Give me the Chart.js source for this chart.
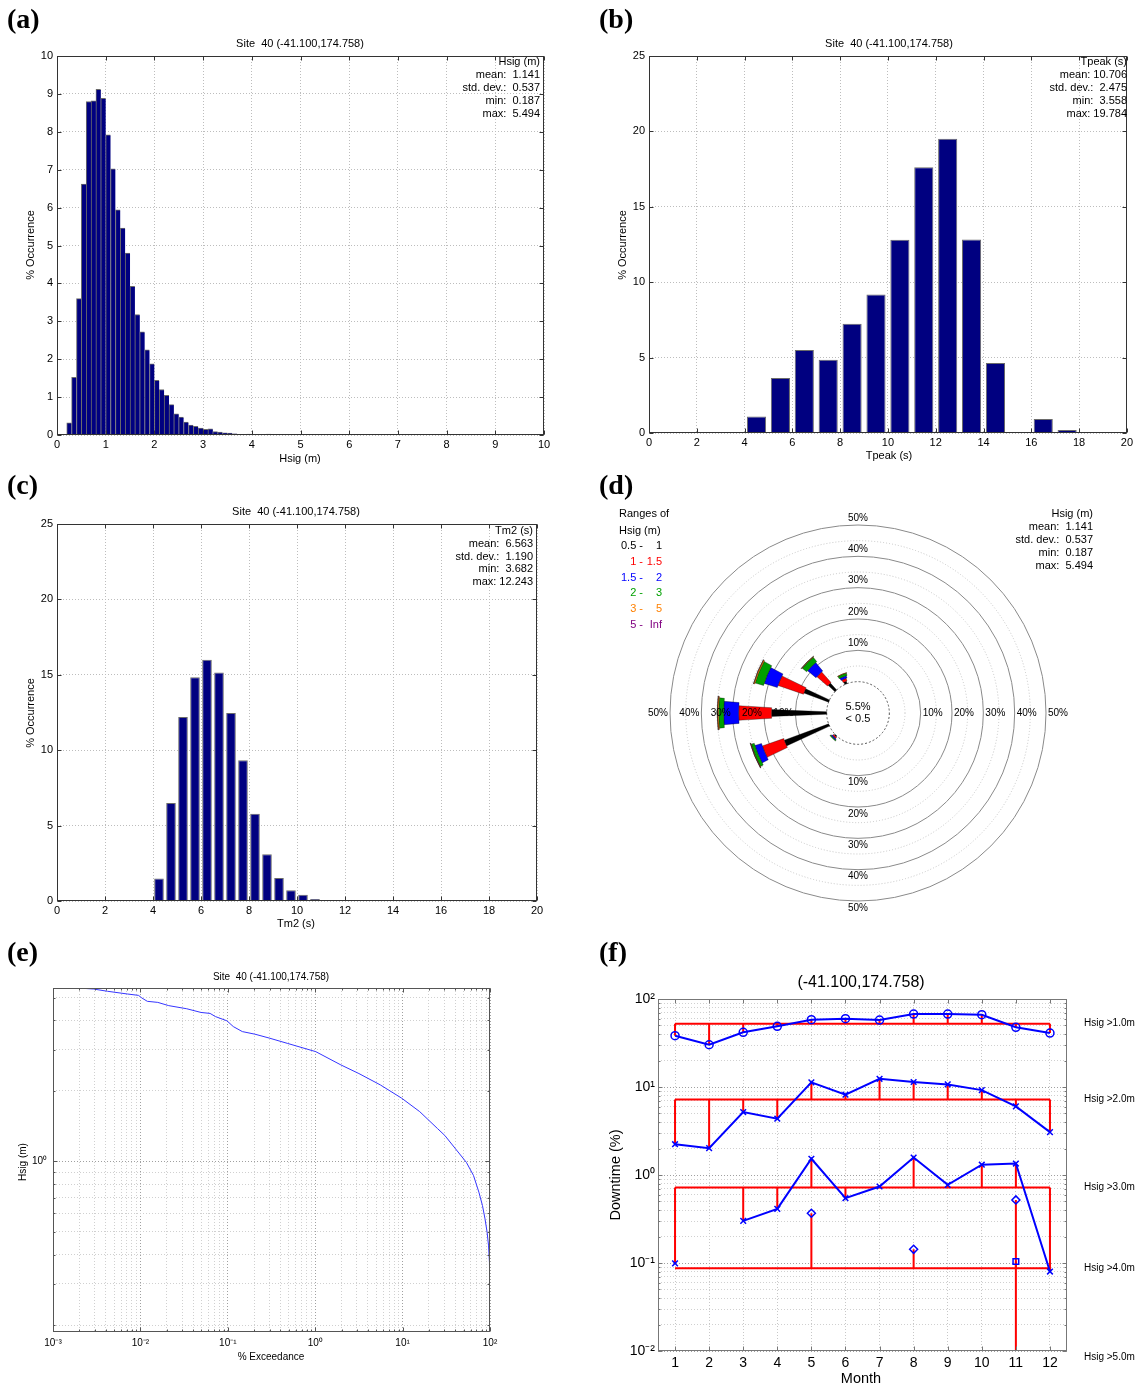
<!DOCTYPE html>
<html>
<head>
<meta charset="utf-8">
<title>Site 40 wave climate</title>
<script src="https://cdn.jsdelivr.net/npm/chart.js@4.4.1/dist/chart.umd.min.js"></script>
<style>
body { margin: 0; background: #fff; }
#page { position: relative; width: 1136px; height: 1387px; background: #fff; overflow: hidden; }
canvas { position: absolute; }
</style>
</head>
<body>
<div id="page">
  <canvas id="histHs" width="568" height="470" style="left:0;top:0"></canvas>
  <canvas id="histTp" width="568" height="470" style="left:568px;top:0"></canvas>
  <canvas id="histTm" width="568" height="460" style="left:0;top:470px"></canvas>
  <canvas id="rose" width="568" height="460" style="left:568px;top:470px"></canvas>
  <canvas id="exceed" width="568" height="457" style="left:0;top:930px"></canvas>
  <canvas id="downtime" width="568" height="457" style="left:568px;top:930px"></canvas>
</div>
<script>
//Site label used on every panel
var siteTitle = "Site  40 (-41.100,174.758)";
var siteCoords = "(-41.100,174.758)";

//(a) Hsig histogram, 0.1 m bins (lower edge of bin)
var hsBinEdges = [0.1, 0.2, 0.3, 0.4, 0.5, 0.6, 0.7, 0.8, 0.9, 1.0, 1.1, 1.2, 1.3, 1.4, 1.5, 1.6, 1.7, 1.8,
    1.9, 2.0, 2.1, 2.2, 2.3, 2.4, 2.5, 2.6, 2.7, 2.8, 2.9, 3.0, 3.1, 3.2, 3.3, 3.4, 3.5, 3.6, 3.7, 3.8,
    3.9, 4.0, 4.1, 4.2, 4.3, 4.4, 4.5, 4.6, 4.7, 4.8, 4.9, 5.0, 5.1, 5.2, 5.3, 5.4];
var hsOccurrence = [0.02, 0.32, 1.52, 3.6, 6.62, 8.8, 8.82, 9.12, 8.88, 7.92, 7.02, 5.94, 5.46, 4.8, 3.92, 3.18, 2.72, 2.25,
    1.88, 1.44, 1.2, 1.05, 0.8, 0.56, 0.47, 0.34, 0.26, 0.23, 0.18, 0.15, 0.16, 0.09, 0.08, 0.06, 0.05, 0.03, 0.015, 0.012,
    0.025, 0.01, 0.008, 0.01, 0.025, 0.01, 0.008, 0.01, 0.008, 0.004, 0.008, 0.008, 0.006, 0.008, 0.006, 0.004];
var hsStats = [1.141, 0.537, 0.187, 5.494];

//(b) Tpeak histogram, 1 s bins
var tpBinEdges = [3, 4, 5, 6, 7, 8, 9, 10, 11, 12, 13, 14, 15, 16, 17, 18, 19];
var tpOccurrence = [0.07, 1.1, 3.64, 5.5, 4.86, 7.24, 9.19, 12.81, 17.62, 19.52, 12.83, 4.64, 0, 0.93, 0.2, 0, 0.04];
var tpStats = [10.706, 2.475, 3.558, 19.784];

//(c) Tm2 histogram, 0.5 s bins
var tmBinEdges = [3.5, 4, 4.5, 5, 5.5, 6, 6.5, 7, 7.5, 8, 8.5, 9, 9.5, 10, 10.5, 11, 11.5, 12];
var tmOccurrence = [0.07, 1.5, 6.5, 12.2, 14.84, 16.0, 15.16, 12.46, 9.33, 5.79, 3.1, 1.53, 0.71, 0.42, 0.13, 0.07, 0.03, 0.02];
var tmStats = [6.563, 1.190, 3.682, 12.243];

//(d) wave rose, % occurrence per direction for each Hsig range
var roseDirs = ["N", "NNE", "NE", "ENE", "E", "ESE", "SE", "SSE", "S", "SSW", "SW", "WSW", "W", "WNW", "NW", "NNW"];
var rangeLow = ["0.5", "1", "1.5", "2", "3", "5"];
var rangeHigh = ["1", "1.5", "2", "3", "5", "Inf"];
var rose05to1  = [0, 0, 0, 0, 0, 0, 0, 0, 0, 0, 0.3, 15.1, 17.6, 8.4, 3.0, 0.8];
var rose1to15  = [0, 0, 0, 0, 0, 0, 0, 0, 0, 0, 0.5, 7.2, 10.5, 8.6, 4.5, 0.9];
var rose15to2  = [0, 0, 0, 0, 0, 0, 0, 0, 0, 0, 0.4, 2.2, 4.8, 4.4, 3.5, 0.8];
var rose2to3   = [0, 0, 0, 0, 0, 0, 0, 0, 0, 0, 0.3, 1.0, 1.6, 2.8, 1.8, 0.8];
var rose3to5   = [0, 0, 0, 0, 0, 0, 0, 0, 0, 0, 0, 0.2, 0.4, 0.4, 0.2, 0.1];
var rose5toInf = [0, 0, 0, 0, 0, 0, 0, 0, 0, 0, 0, 0.03, 0.05, 0.05, 0.02, 0];
var calmPct = 5.5;
var calmBelow = "0.5";
var ringValues = [10, 20, 30, 40, 50];

//(e) Hsig exceedance curve
var exceedPct = [0.002, 0.0029, 0.0042, 0.0071, 0.0095, 0.0104, 0.012, 0.0158, 0.0211, 0.0339, 0.0494, 0.0627,
    0.0721, 0.0977, 0.1156, 0.1466, 0.2042, 0.2972, 0.4786, 1.014, 1.968, 3.162, 5.559, 9.772, 15.7, 25.12,
    30.4, 40.4, 53.7, 64.7, 74.6, 82.0, 87.7, 92.7, 96.3, 98.6, 99.5, 99.85, 99.97, 100];
var exceedHs = [5.49, 5.44, 5.32, 5.18, 5.11, 4.98, 4.82, 4.77, 4.62, 4.48, 4.32, 4.28,
    4.15, 3.98, 3.76, 3.58, 3.49, 3.36, 3.19, 2.94, 2.58, 2.37, 2.12, 1.86, 1.63, 1.38,
    1.29, 1.13, 0.99, 0.871, 0.739, 0.648, 0.568, 0.498, 0.436, 0.371, 0.31, 0.25, 0.21, 0.187];

//(f) monthly downtime (%) for each Hsig threshold, 0 = none
var months = [1, 2, 3, 4, 5, 6, 7, 8, 9, 10, 11, 12];
var down10 = [38.3, 30.2, 41.8, 48.9, 58.2, 59.7, 57.7, 67.5, 67.5, 66.3, 47.7, 41.0];
var down20 = [2.24, 2.02, 5.19, 4.36, 11.3, 8.17, 12.4, 11.4, 10.7, 9.22, 6.02, 3.07];
var down30 = [0.099, 0, 0.301, 0.412, 1.53, 0.545, 0.74, 1.58, 0.773, 1.31, 1.35, 0.080];
var down40 = [0, 0, 0, 0, 0.368, 0, 0, 0.143, 0, 0, 0.521, 0];
var down50 = [0, 0, 0, 0, 0, 0, 0, 0, 0, 0, 0.104, 0];
var downAnnual = [52.4, 7.23, 0.721, 0.087, 0.0086];
var downNames = ["Hsig >1.0m", "Hsig >2.0m", "Hsig >3.0m", "Hsig >4.0m", "Hsig >5.0m"];


var FONT = '"Liberation Sans", Arial, Helvetica, sans-serif';
var SERIF = '"Liberation Serif", "Times New Roman", serif';
Chart.defaults.font.family = FONT;
Chart.defaults.color = "#000";
Chart.defaults.animation = false;
Chart.defaults.events = [];
Chart.defaults.plugins.legend.display = false;
Chart.defaults.plugins.tooltip.enabled = false;

var SUP = {"-": "\u207b", "0": "\u2070", "1": "\u00b9", "2": "\u00b2", "3": "\u00b3", "4": "\u2074",
    "5": "\u2075", "6": "\u2076", "7": "\u2077", "8": "\u2078", "9": "\u2079"};

function isDecade(v) {
    var e = Math.log10(v);
    return Math.abs(e - Math.round(e)) < 1e-6;
}

//tick label like 10^-2 with real superscript characters
function powLabel(v) {
    if (!isDecade(v)) return "";
    var e = String(Math.round(Math.log10(v)));
    var s = "";
    for (var i = 0; i < e.length; i++) s += SUP[e[i]];
    return "10" + s;
}

//MATLAB style log ticks: 1..9 in every decade
function logTicks(scale) {
    var t = [];
    var lo = Math.floor(Math.log10(scale.min));
    var hi = Math.ceil(Math.log10(scale.max));
    for (var e = lo; e <= hi; e++) {
        for (var m = 1; m < 10; m++) {
            var v = parseFloat((m * Math.pow(10, e)).toPrecision(6));
            if (v >= scale.min * 0.9999 && v <= scale.max * 1.0001) t.push({value: v});
        }
    }
    scale.ticks = t;
}

function logGridColor(c) {
    if (!c.tick) return "#d0d0d0";
    return isDecade(c.tick.value) ? "#a0a0a0" : "#d0d0d0";
}

function statLines(name, vals) {
    var f = function(v) { return (v < 10 ? " " : "") + v.toFixed(3); };
    return [name, "mean: " + f(vals[0]), "std. dev.: " + f(vals[1]), "min: " + f(vals[2]), "max: " + f(vals[3])];
}

//frame round the plot area with small inward ticks
function boxPlugin(color) {
    return {
        id: "box",
        afterDraw: function(chart) {
            var ctx = chart.ctx, a = chart.chartArea;
            var L = Math.round(a.left) + 0.5, R = Math.round(a.right) - 0.5;
            var T = Math.round(a.top) + 0.5, B = Math.round(a.bottom) - 0.5;
            ctx.save();
            ctx.strokeStyle = color;
            ctx.lineWidth = 1;
            ctx.strokeRect(L, T, R - L, B - T);
            ctx.beginPath();
            chart.scales.x.ticks.forEach(function(t) {
                var px = Math.round(chart.scales.x.getPixelForValue(t.value)) + 0.5;
                var len = t.label ? 4 : 2;
                ctx.moveTo(px, B); ctx.lineTo(px, B - len);
                ctx.moveTo(px, T); ctx.lineTo(px, T + len);
            });
            chart.scales.y.ticks.forEach(function(t) {
                var py = Math.round(chart.scales.y.getPixelForValue(t.value)) + 0.5;
                var len = t.label ? 4 : 2;
                ctx.moveTo(L, py); ctx.lineTo(L + len, py);
                ctx.moveTo(R, py); ctx.lineTo(R - len, py);
            });
            ctx.stroke();
            ctx.restore();
        }
    };
}

//free text (titles, axis names, stats, panel letters)
function textPlugin(items) {
    return {
        id: "texts",
        afterDraw: function(chart) {
            var ctx = chart.ctx;
            items.forEach(function(it) {
                ctx.save();
                ctx.font = (it.bold ? "bold " : "") + (it.size || 11) + "px " + (it.family || FONT);
                ctx.fillStyle = it.color || "#000";
                ctx.textAlign = it.align || "center";
                ctx.textBaseline = "middle";
                ctx.translate(it.x, it.y);
                if (it.rot) ctx.rotate(it.rot);
                ctx.fillText(it.text, 0, 0);
                ctx.restore();
            });
        }
    };
}

function statTexts(lines, right, top, step) {
    return lines.map(function(s, i) {
        return {text: s, x: right, y: top + i * step, align: "right", size: 11};
    });
}

function histChart(id, edges, values, binW, barPct, xMax, xStep, yMax, yStep, box, texts) {
    var el = document.getElementById(id);
    var W = el.width, H = el.height;
    var pts = edges.map(function(e, i) { return {x: e + binW / 2, y: values[i]}; });
    return new Chart(el, {
        type: "bar",
        data: {
            datasets: [{
                data: pts,
                backgroundColor: "#000080",
                borderColor: "#6a6a6a",
                borderWidth: binW < 0.2 ? {top: 1, left: 1, right: 0, bottom: 0} : 1,
                borderSkipped: "bottom",
                barPercentage: barPct,
                categoryPercentage: 1
            }]
        },
        options: {
            responsive: false,
            layout: {padding: {left: 0, top: box.t, right: W - box.r, bottom: 0}},
            scales: {
                x: {
                    type: "linear", min: 0, max: xMax, offset: false,
                    ticks: {stepSize: xStep, padding: 3, font: {size: 11}, maxRotation: 0, autoSkip: false},
                    grid: {color: "#bdbdbd", drawTicks: false, offset: false},
                    border: {display: false, dash: [1, 2]},
                    afterFit: function(s) { s.height = H - box.b; }
                },
                y: {
                    type: "linear", min: 0, max: yMax,
                    ticks: {stepSize: yStep, padding: 4, font: {size: 11}, autoSkip: false},
                    grid: {color: "#bdbdbd", drawTicks: false},
                    border: {display: false, dash: [1, 2]},
                    afterFit: function(s) { s.width = box.l; }
                }
            }
        },
        plugins: [boxPlugin("#333"), textPlugin(texts)]
    });
}

//(a)
histChart("histHs", hsBinEdges, hsOccurrence, 0.1, 1, 10, 1, 10, 1,
    {l: 57, t: 56, r: 544, b: 435},
    [{text: "(a)", x: 7, y: 21, align: "left", size: 28, bold: true, family: SERIF},
     {text: siteTitle, x: 300, y: 44},
     {text: "Hsig (m)", x: 300, y: 459},
     {text: "% Occurrence", x: 31, y: 245, rot: -Math.PI / 2}]
    .concat(statTexts(statLines("Hsig (m)", hsStats), 540, 62, 13)));

//(b)
histChart("histTp", tpBinEdges, tpOccurrence, 1, 0.8, 20, 2, 25, 5,
    {l: 81, t: 56, r: 562, b: 433},
    [{text: "(b)", x: 31, y: 21, align: "left", size: 28, bold: true, family: SERIF},
     {text: siteTitle, x: 321, y: 44},
     {text: "Tpeak (s)", x: 321, y: 456},
     {text: "% Occurrence", x: 55, y: 245, rot: -Math.PI / 2}]
    .concat(statTexts(statLines("Tpeak (s)", tpStats), 559, 62, 13)));

//(c)
histChart("histTm", tmBinEdges, tmOccurrence, 0.5, 0.8, 20, 2, 25, 5,
    {l: 57, t: 54, r: 537, b: 431},
    [{text: "(c)", x: 7, y: 17, align: "left", size: 28, bold: true, family: SERIF},
     {text: siteTitle, x: 296, y: 42},
     {text: "Tm2 (s)", x: 296, y: 454},
     {text: "% Occurrence", x: 31, y: 243, rot: -Math.PI / 2}]
    .concat(statTexts(statLines("Tm2 (s)", tmStats), 533, 61, 12.8)));

//(d) wave rose on a radial scale running from -10 so that 0 % sits on the calm circle
var roseBands = [rose05to1, rose1to15, rose15to2, rose2to3, rose3to5, rose5toInf];
var bandColors = ["#000000", "#ff0000", "#0000ff", "#00a000", "#ff8000", "#800080"];
var bandText = ["#000000", "#ff0000", "#0000ff", "#00a000", "#ff8000", "#800080"];
var bandSpread = [4.5, 7, 10, 12.5, 13.5, 14];

var rosePlugin = {
    id: "rose",
    afterDatasetsDraw: function(chart) {
        var s = chart.scales.r, ctx = chart.ctx;
        var cum = roseDirs.map(function() { return 0; });
        ctx.save();
        chart.data.datasets.forEach(function(ds, b) {
            ds.data.forEach(function(v, i) {
                if (!v) return;
                var r0 = s.getDistanceFromCenterForValue(cum[i]);
                cum[i] += v;
                var r1 = s.getDistanceFromCenterForValue(cum[i]);
                var ang = s.getIndexAngle(i) - Math.PI / 2;
                var h = bandSpread[b] * Math.PI / 360;
                ctx.beginPath();
                ctx.arc(s.xCenter, s.yCenter, r1, ang - h, ang + h);
                ctx.arc(s.xCenter, s.yCenter, r0, ang + h, ang - h, true);
                ctx.closePath();
                ctx.fillStyle = bandColors[b];
                ctx.fill();
                ctx.lineWidth = 0.6;
                ctx.strokeStyle = "rgba(0,0,0,0.55)";
                ctx.stroke();
            });
        });
        ctx.restore();
    },
    afterDraw: function(chart) {
        var s = chart.scales.r, ctx = chart.ctx;
        var xc = s.xCenter, yc = s.yCenter;
        ctx.save();
        ctx.fillStyle = "#000";
        ctx.font = "10px " + FONT;
        ringValues.forEach(function(v) {
            var rr = s.getDistanceFromCenterForValue(v);
            var lab = v + "%";
            ctx.textAlign = "center";
            ctx.textBaseline = "bottom";
            ctx.fillText(lab, xc, yc - rr - 2);
            ctx.textBaseline = "top";
            ctx.fillText(lab, xc, yc + rr + 2);
            ctx.textBaseline = "middle";
            ctx.textAlign = "left";
            ctx.fillText(lab, xc + rr + 2, yc);
            ctx.textAlign = "right";
            ctx.fillText(lab, xc - rr - 2, yc);
        });
        ctx.font = "11px " + FONT;
        ctx.textAlign = "center";
        ctx.textBaseline = "middle";
        ctx.fillText(calmPct.toFixed(1) + "%", xc, yc - 6);
        ctx.fillText("< " + calmBelow, xc, yc + 6);
        //range legend
        ctx.textAlign = "left";
        ctx.fillText("Ranges of", 51, 44);
        ctx.fillText("Hsig (m)", 51, 61);
        rangeLow.forEach(function(lo, i) {
            var y = 76 + i * 15.8;
            ctx.fillStyle = bandText[i];
            ctx.textAlign = "right";
            ctx.fillText(lo + " -", 75, y);
            ctx.fillText(rangeHigh[i], 94, y);
        });
        ctx.restore();
    }
};

(function() {
    var el = document.getElementById("rose");
    new Chart(el, {
        type: "radar",
        data: {
            labels: roseDirs,
            datasets: roseBands.map(function(vals) {
                return {data: vals, borderWidth: 0, pointRadius: 0, backgroundColor: "rgba(0,0,0,0)", fill: false, showLine: false};
            })
        },
        options: {
            responsive: false,
            layout: {padding: {left: 102, right: 90, top: 55, bottom: 29}},
            scales: {
                r: {
                    min: -10, max: 50, startAngle: 0,
                    ticks: {display: false, stepSize: 5},
                    pointLabels: {display: false},
                    angleLines: {display: false},
                    grid: {
                        circular: true, lineWidth: 1,
                        color: function(c) {
                            var v = c.tick.value;
                            if (v < 0) return "rgba(0,0,0,0)";
                            if (v === 0) return "#555";
                            return v % 10 === 0 ? "#8a8a8a" : "#c4c4c4";
                        }
                    },
                    border: {
                        dash: function(c) {
                            var v = c.tick.value;
                            if (v === 0) return [2, 2];
                            return v % 10 === 0 ? [] : [1, 2];
                        }
                    }
                }
            }
        },
        plugins: [rosePlugin, textPlugin(
            [{text: "(d)", x: 31, y: 17, align: "left", size: 28, bold: true, family: SERIF}]
            .concat(statTexts(statLines("Hsig (m)", hsStats), 525, 44, 13)))]
    });
})();

//(e) exceedance, log-log
(function() {
    var el = document.getElementById("exceed");
    var W = el.width, H = el.height;
    var box = {l: 53, t: 58, r: 490, b: 402};
    new Chart(el, {
        type: "line",
        data: {
            datasets: [{
                data: exceedPct.map(function(p, i) { return {x: p, y: exceedHs[i]}; }),
                borderColor: "#3535ff", borderWidth: 1, pointRadius: 0, tension: 0
            }]
        },
        options: {
            responsive: false,
            layout: {padding: {left: 0, top: box.t, right: W - box.r, bottom: 0}},
            scales: {
                x: {
                    type: "logarithmic", min: 0.001, max: 100,
                    afterBuildTicks: logTicks,
                    ticks: {callback: powLabel, autoSkip: false, maxRotation: 0, padding: 5, font: {size: 10}},
                    grid: {color: logGridColor, drawTicks: false},
                    border: {display: false, dash: [1, 2]},
                    afterFit: function(s) { s.height = H - box.b; }
                },
                y: {
                    type: "logarithmic", min: 0.187, max: 5.494,
                    afterBuildTicks: logTicks,
                    ticks: {callback: powLabel, autoSkip: false, padding: 6, font: {size: 10}},
                    grid: {color: logGridColor, drawTicks: false},
                    border: {display: false, dash: [1, 2]},
                    afterFit: function(s) { s.width = box.l; }
                }
            }
        },
        plugins: [boxPlugin("#555"), textPlugin([
            {text: "(e)", x: 7, y: 24, align: "left", size: 28, bold: true, family: SERIF},
            {text: siteTitle, x: 271, y: 47, size: 10},
            {text: "% Exceedance", x: 271, y: 427, size: 10},
            {text: "Hsig (m)", x: 23, y: 232, size: 10, rot: -Math.PI / 2}
        ])]
    });
})();

//(f) monthly downtime, blue = monthly value, red = annual level with stems
(function() {
    var el = document.getElementById("downtime");
    var W = el.width, H = el.height;
    var box = {l: 90, t: 69, r: 499, b: 421};
    var series = [down10, down20, down30, down40, down50];
    var markers = ["circle", "crossRot", "crossRot", "rectRot", "rect"];
    var datasets = [];

    series.forEach(function(vals, k) {
        datasets.push({
            data: months.map(function(m, i) { return {x: m, y: vals[i] > 0 ? vals[i] : null}; }),
            borderColor: "#0000ff", borderWidth: 2, tension: 0, spanGaps: false,
            pointStyle: markers[k], pointRadius: 4, pointBorderWidth: 1.5,
            pointBorderColor: "#0000ff", pointBackgroundColor: "rgba(0,0,0,0)"
        });
    });

    series.forEach(function(vals, k) {
        var a = downAnnual[k];
        var pts = [{x: months[0], y: a}, {x: months[months.length - 1], y: a}, {x: months[0], y: null}];
        months.forEach(function(m, i) {
            if (vals[i] > 0) {
                pts.push({x: m, y: vals[i]}, {x: m, y: a}, {x: m, y: null});
            }
        });
        datasets.push({data: pts, borderColor: "#ff0000", borderWidth: 2, pointRadius: 0, spanGaps: false, tension: 0});
    });

    var labelPlugin = {
        id: "levels",
        afterDraw: function(chart) {
            var ctx = chart.ctx, sy = chart.scales.y;
            ctx.save();
            ctx.font = "10px " + FONT;
            ctx.fillStyle = "#000";
            ctx.textAlign = "left";
            ctx.textBaseline = "middle";
            downNames.forEach(function(n, k) {
                ctx.fillText(n, 516, sy.getPixelForValue(downAnnual[k]));
            });
            ctx.restore();
        }
    };

    new Chart(el, {
        type: "line",
        data: {datasets: datasets},
        options: {
            responsive: false,
            layout: {padding: {left: 0, top: box.t, right: W - box.r, bottom: 0}},
            scales: {
                x: {
                    type: "linear", min: 0.5, max: 12.5,
                    afterBuildTicks: function(s) { s.ticks = months.map(function(m) { return {value: m}; }); },
                    ticks: {autoSkip: false, maxRotation: 0, padding: 4, font: {size: 14}},
                    grid: {color: "#c8c8c8", drawTicks: false},
                    border: {display: false, dash: [1, 2]},
                    afterFit: function(s) { s.height = H - box.b; }
                },
                y: {
                    type: "logarithmic", min: 0.01, max: 100,
                    afterBuildTicks: logTicks,
                    ticks: {callback: powLabel, autoSkip: false, padding: 3, font: {size: 14}},
                    grid: {color: logGridColor, drawTicks: false},
                    border: {display: false, dash: [1, 2]},
                    afterFit: function(s) { s.width = box.l; }
                }
            }
        },
        plugins: [boxPlugin("#777"), labelPlugin, textPlugin([
            {text: "(f)", x: 31, y: 24, align: "left", size: 28, bold: true, family: SERIF},
            {text: siteCoords, x: 293, y: 53, size: 16},
            {text: "Month", x: 293, y: 449, size: 14.5},
            {text: "Downtime (%)", x: 48, y: 245, size: 14.5, rot: -Math.PI / 2}
        ])]
    });
})();
</script>
</body>
</html>
